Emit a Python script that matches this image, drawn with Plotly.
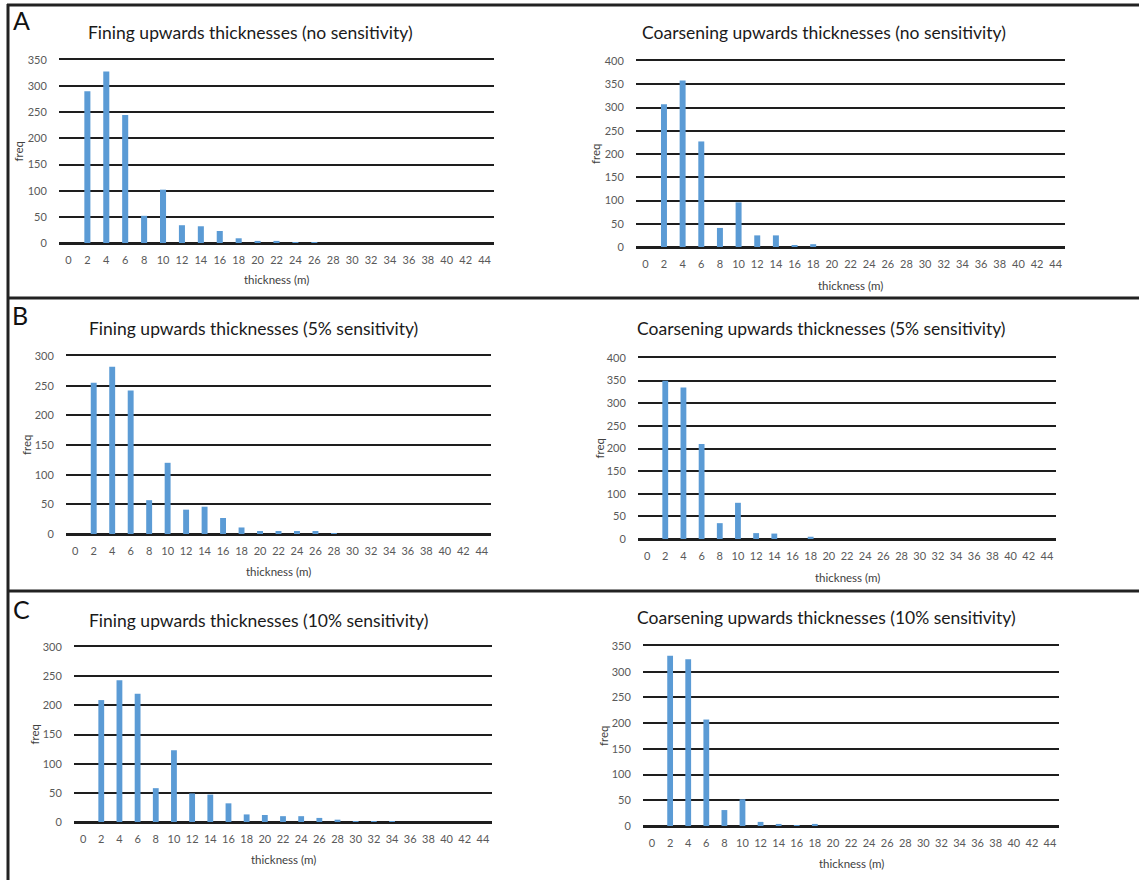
import plotly.graph_objects as go

# ---- data ----
thickness = [str(v) for v in range(0, 46, 2)]  # 0..44

fining_none = [0, 290, 328, 245, 52, 102, 34, 32, 23, 9, 4, 4, 1, 1, 0, 0, 0, 0, 0, 0, 0, 0, 0]
coarse_none = [0, 307, 358, 227, 41, 96, 25, 25, 3, 6, 0, 0, 0, 0, 0, 0, 0, 0, 0, 0, 0, 0, 0]
fining_5 = [0, 255, 282, 242, 57, 120, 41, 46, 27, 11, 5, 5, 5, 5, 1, 0, 0, 0, 0, 0, 0, 0, 0]
coarse_5 = [0, 350, 335, 210, 35, 80, 13, 12, 0, 5, 0, 0, 0, 0, 0, 0, 0, 0, 0, 0, 0, 0, 0]
fining_10 = [0, 209, 243, 220, 58, 123, 49, 47, 32, 13, 12, 10, 10, 7, 4, 1, 1, 1, 0, 0, 0, 0, 0]
coarse_10 = [0, 331, 324, 207, 31, 52, 8, 4, 1, 4, 0, 0, 0, 0, 0, 0, 0, 0, 0, 0, 0, 0, 0]

titles = [
    "Fining upwards thicknesses (no sensitivity)",
    "Coarsening upwards thicknesses (no sensitivity)",
    "Fining upwards thicknesses (5% sensitivity)",
    "Coarsening upwards thicknesses (5% sensitivity)",
    "Fining upwards thicknesses (10% sensitivity)",
    "Coarsening upwards thicknesses (10% sensitivity)",
]
series = [fining_none, coarse_none, fining_5, coarse_5, fining_10, coarse_10]
ymax = [350, 400, 300, 400, 300, 350]
panel_letters = ["A", "B", "C"]

# ---- layout geometry (pixels) ----
W, H = 1139, 880
# (x0, x1, y_bottom, y_top, title_x, title_y, xtitle_y, ytitle_x)
geom = [
    (59, 494, 243, 60, 250, 32, 280, 18),
    (636, 1065, 247, 61, 824, 32, 285, 595),
    (66, 491, 534, 356, 253, 328, 571, 26),
    (638, 1056, 539, 358, 821, 329, 577, 599),
    (74, 492, 822, 647, 258, 620, 859, 34),
    (643, 1059, 826, 646, 826, 617, 863, 603),
]
letter_pos = [(21, 20), (20, 315), (21, 609)]

FONT = "Lato"
BAR = "#5B9BD5"
GRID = "#1e1e1e"
TICK = "#595959"

def px(x):
    return x / W

def py(y):
    return 1 - y / H

fig = go.Figure()
annotations = []
for i, (vals, g) in enumerate(zip(series, geom)):
    x0, x1, yb, yt, tx, ty, xty, ytx = g
    n = i + 1
    xa = "x" if n == 1 else f"x{n}"
    ya = "y" if n == 1 else f"y{n}"
    fig.add_trace(go.Bar(x=thickness, y=vals, marker_color=BAR, marker_line_width=0,
                         width=0.32, xaxis=xa, yaxis=ya, showlegend=False))
    xkey = "xaxis" if n == 1 else f"xaxis{n}"
    ykey = "yaxis" if n == 1 else f"yaxis{n}"
    fig.layout[xkey] = dict(domain=[px(x0), px(x1)], anchor=ya, type="category",
                            categoryorder="array", categoryarray=thickness,
                            showgrid=False, zeroline=False, automargin=False,
                            showline=True, linecolor=GRID, linewidth=2, mirror=True,
                            ticks="outside", ticklen=6, tickcolor="rgba(0,0,0,0)",
                            tickfont=dict(family=FONT, size=11, color=TICK),
                            fixedrange=True)
    fig.layout[ykey] = dict(domain=[py(yb), py(yt)], anchor=xa, range=[0, ymax[i]],
                            dtick=50, showgrid=True, gridcolor=GRID, gridwidth=2,
                            zeroline=True, zerolinecolor=GRID, zerolinewidth=2,
                            automargin=False,
                            showline=False, ticks="outside", ticklen=9,
                            tickcolor="rgba(0,0,0,0)",
                            tickfont=dict(family=FONT, size=11, color=TICK),
                            fixedrange=True)
    annotations.append(dict(text=titles[i], x=px(tx), y=py(ty), xref="paper", yref="paper",
                            showarrow=False, xanchor="center", yanchor="middle",
                            font=dict(family=FONT, size=17.5, color="#1a1a1a")))
    annotations.append(dict(text="thickness (m)", x=px((x0 + x1) / 2), y=py(xty),
                            xref="paper", yref="paper", showarrow=False,
                            xanchor="center", yanchor="middle",
                            font=dict(family=FONT, size=11.5, color="#404040")))
    annotations.append(dict(text="freq", x=px(ytx), y=py((yb + yt) / 2), xref="paper",
                            yref="paper", showarrow=False, textangle=-90,
                            xanchor="center", yanchor="middle",
                            font=dict(family=FONT, size=11.5, color="#404040")))

for L, (lx, ly) in zip(panel_letters, letter_pos):
    annotations.append(dict(text=L, x=px(lx), y=py(ly), xref="paper", yref="paper",
                            showarrow=False, xanchor="center", yanchor="middle",
                            font=dict(family=FONT, size=25, color="#111111")))

line_style = dict(color="#222222", width=3)
shapes = [
    dict(type="line", xref="paper", yref="paper", x0=px(7), x1=1, y0=py(5), y1=py(5), line=line_style),
    dict(type="line", xref="paper", yref="paper", x0=px(7), x1=1, y0=py(298), y1=py(298), line=line_style),
    dict(type="line", xref="paper", yref="paper", x0=px(7), x1=1, y0=py(591), y1=py(591), line=line_style),
    dict(type="line", xref="paper", yref="paper", x0=px(8), x1=px(8), y0=py(4), y1=0, line=line_style),
]

fig.update_layout(width=W, height=H, margin=dict(l=0, r=0, t=0, b=0, pad=0),
                  autosize=False,
                  paper_bgcolor="white", plot_bgcolor="white",
                  bargap=0.68, annotations=annotations, shapes=shapes,
                  font=dict(family=FONT))

fig.write_html("out.html", config={"displayModeBar": False, "responsive": False},
               post_script="document.body.style.margin='0';document.body.style.padding='0';document.body.style.overflow='hidden';")
